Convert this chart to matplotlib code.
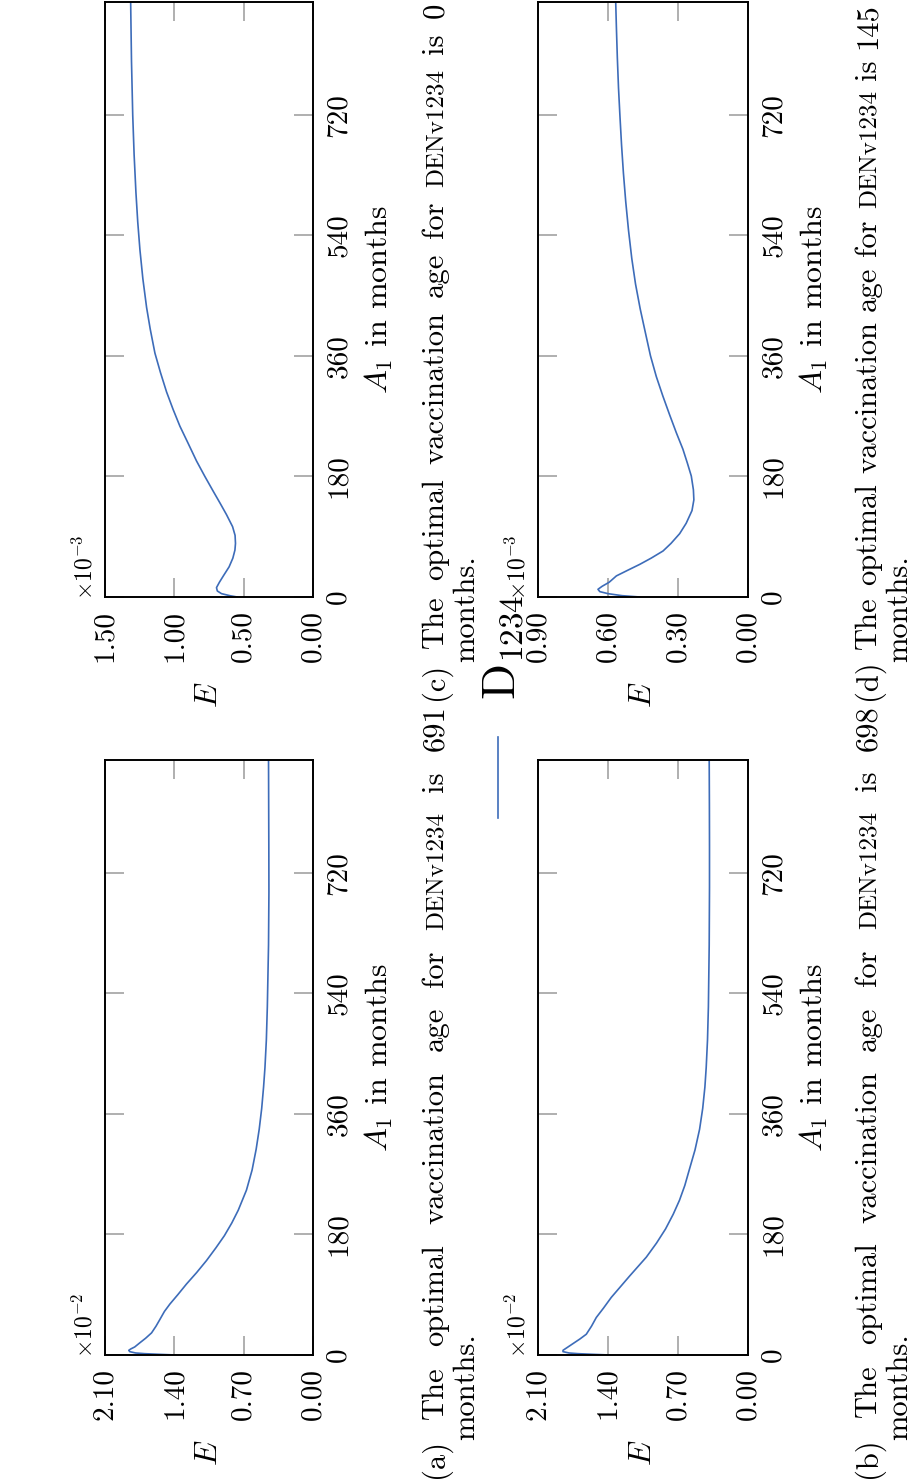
import matplotlib
matplotlib.use("Agg")
import matplotlib.pyplot as plt
from matplotlib.lines import Line2D

W, H, DPI = 913, 1481, 100

plt.rcParams["font.family"] = ["cmr10", "DejaVu Serif"]
plt.rcParams["mathtext.fontset"] = "cm"
plt.rcParams["axes.unicode_minus"] = False

LINE_COLOR = "#3d6cb9"
TICK_COLOR = "#9a9a9a"

# ---------------------------------------------------------------- data
A1_MAX = 888
a1_ticks = [0, 180, 360, 540, 720]

# (a) E in units of 1e-2
a1_a = [0, 1, 2, 3, 5, 7, 9, 12, 18, 25, 33, 43, 53, 65, 76, 90, 106, 123,
        141, 160, 178, 197, 216, 246, 276, 307, 337, 368, 400, 429, 470,
        520, 612, 691, 760, 888]
e_a = [1.384, 1.55, 1.70, 1.79, 1.85, 1.86, 1.84, 1.80, 1.75, 1.69, 1.63,
       1.585, 1.546, 1.50, 1.445, 1.365, 1.277, 1.175, 1.075, 0.98, 0.895,
       0.82, 0.755, 0.672, 0.615, 0.574, 0.543, 0.518, 0.499, 0.485, 0.471,
       0.461, 0.449, 0.445, 0.446, 0.449]
e_ticks_a = [0.00, 0.70, 1.40, 2.10]

# (b) E in units of 1e-2
a1_b = [0, 1, 2, 3, 5, 7, 9, 12, 17, 24, 31, 43, 56, 70, 86, 102, 118, 132,
        146, 167, 188, 210, 231, 253, 276, 306, 337, 368, 400, 429, 470,
        520, 612, 698, 760, 820, 888]
e_b = [1.383, 1.55, 1.70, 1.79, 1.85, 1.85, 1.83, 1.80, 1.75, 1.68, 1.617,
       1.565, 1.517, 1.445, 1.367, 1.275, 1.183, 1.10, 1.017, 0.915, 0.825,
       0.748, 0.685, 0.632, 0.588, 0.530, 0.484, 0.453, 0.431, 0.418, 0.405,
       0.396, 0.388, 0.385, 0.385, 0.386, 0.388]
e_ticks_b = [0.00, 0.70, 1.40, 2.10]

# (c) E in units of 1e-3
a1_c = [0, 2, 5, 9, 14, 22, 32, 45, 58, 70, 80, 92, 105, 123, 140, 158, 180,
        203, 230, 255, 280, 306, 335, 364, 400, 432, 475, 518, 560, 604, 660,
        719, 800, 888]
e_c = [0.547, 0.60, 0.66, 0.69, 0.696, 0.675, 0.645, 0.605, 0.578, 0.563,
       0.559, 0.562, 0.58, 0.624, 0.67, 0.72, 0.78, 0.84, 0.902, 0.96, 1.009,
       1.056, 1.10, 1.14, 1.174, 1.20, 1.227, 1.248, 1.264, 1.277, 1.29,
       1.30, 1.309, 1.315]
e_ticks_c = [0.00, 0.50, 1.00, 1.50]

# (d) E in units of 1e-3
a1_d = [0, 2, 5, 8, 11.5, 16, 22, 31.5, 40, 48.7, 58, 68.7, 80, 94.5, 110,
        129, 145, 160, 180.5, 200, 220.6, 245, 272, 300, 329, 360, 398, 430,
        467, 505, 547, 590, 633, 675, 719, 760, 805, 850, 888]
e_d = [0.464, 0.54, 0.60, 0.635, 0.643, 0.625, 0.595, 0.564, 0.515, 0.464,
       0.415, 0.364, 0.33, 0.293, 0.265, 0.240, 0.232, 0.234, 0.243, 0.26,
       0.279, 0.307, 0.336, 0.365, 0.393, 0.418, 0.442, 0.462, 0.482, 0.498,
       0.512, 0.524, 0.534, 0.542, 0.549, 0.555, 0.560, 0.564, 0.567]
e_ticks_d = [0.00, 0.30, 0.60, 0.90]

optimal_ages = ["691", "698", "0", "145"]
panel_letters = ["(a)", "(b)", "(c)", "(d)"]
scale_exponents = ["-2", "-2", "-3", "-3"]
legend_label = r"$\mathrm{D}_{1234}$"

# ---------------------------------------------------------------- layout
fig = plt.figure(figsize=(W / DPI, H / DPI), dpi=DPI)


def fx(x):
    return x / W


def fy(y):
    return 1 - y / H


def rect(x0, y0, x1, y1):
    return [x0 / W, 1 - y1 / H, (x1 - x0) / W, (y1 - y0) / H]


boxes = [(105, 760, 313, 1355), (538, 760, 748, 1355),
         (105, 2, 313, 597), (538, 2, 748, 597)]
series = [(a1_a, e_a, e_ticks_a), (a1_b, e_b, e_ticks_b),
          (a1_c, e_c, e_ticks_c), (a1_d, e_d, e_ticks_d)]

TICK_FS = 21
LABEL_FS = 23
CAP_FS = 22
DEN_FS = 18
SMALL_FS = 17

for box, (a1, e, eticks), expo in zip(boxes, series, scale_exponents):
    x0, y0, x1, y1 = box
    ax = fig.add_axes(rect(*box))
    ax.plot(e, a1, color=LINE_COLOR, lw=1.2, solid_joinstyle="round")
    ax.set_xlim(eticks[-1], eticks[0])
    ax.set_ylim(0, A1_MAX)
    ax.set_xticks(eticks)
    ax.set_xticklabels([f"{v:.2f}" for v in eticks])
    ax.set_yticks(a1_ticks)
    ax.set_yticklabels([str(v) for v in a1_ticks])
    ax.tick_params(axis="both", direction="in", length=14, width=1.1,
                   color=TICK_COLOR, labelsize=TICK_FS, labelrotation=90)
    ax.tick_params(axis="x", top=True, bottom=True, pad=9)
    ax.tick_params(axis="y", left=True, right=True, labelleft=False,
                   labelright=True, pad=9)
    for lab in ax.get_yticklabels():
        lab.set_va("center")
    for sp in ax.spines.values():
        sp.set_linewidth(1.4)
        sp.set_color("black")
    w, h = x1 - x0, y1 - y0
    # axis titles
    ax.text(0.5, -85 / h, "$E$", rotation=90, ha="center", va="top",
            fontsize=LABEL_FS, transform=ax.transAxes)
    ax.text(1 + 50 / w, 0.5, "$A_1$ in months", rotation=90, ha="left",
            va="center", fontsize=LABEL_FS, transform=ax.transAxes)
    ax.text(-8 / w, -3 / h, r"$\times10^{%s}$" % expo, rotation=90,
            ha="right", va="bottom", fontsize=SMALL_FS,
            transform=ax.transAxes)

# ---------------------------------------------------------------- captions
renderer = fig.canvas.get_renderer()


def caption_line(words, sizes, x_base, y_start, y_end=None):
    texts = [fig.text(0, 0, wd, fontsize=s, rotation=90,
                      rotation_mode="anchor", ha="left", va="baseline")
             for wd, s in zip(words, sizes)]
    lens = [t.get_window_extent(renderer).height for t in texts]
    if y_end is None or len(words) == 1:
        gap = CAP_FS * 1.39 * 0.33
    else:
        gap = ((y_start - y_end) - sum(lens)) / (len(words) - 1)
    y = y_start
    for t, L in zip(texts, lens):
        t.set_position((fx(x_base), fy(y)))
        y -= L + gap


cap_pos = [(443, 474, 1478, 705), (876, 907, 1478, 705),
           (443, 474, 700, 3), (876, 907, 700, 3)]
for letter, age, (xb1, xb2, ys, ye) in zip(panel_letters, optimal_ages,
                                           cap_pos):
    words = [letter, "The", "optimal", "vaccination", "age", "for",
             "DENv1234", "is", age]
    sizes = [CAP_FS] * len(words)
    sizes[6] = DEN_FS
    caption_line(words, sizes, xb1, ys, ye)
    caption_line(["months."], [CAP_FS], xb2, ys - 38)

# ---------------------------------------------------------------- legend
fig.add_artist(Line2D([fx(498), fx(498)], [fy(818), fy(737)],
                      color=LINE_COLOR, lw=1.2, transform=fig.transFigure))
fig.text(fx(514), fy(700), legend_label, rotation=90,
         rotation_mode="anchor", ha="left", va="baseline", fontsize=34)

fig.savefig("out.png", dpi=DPI)
